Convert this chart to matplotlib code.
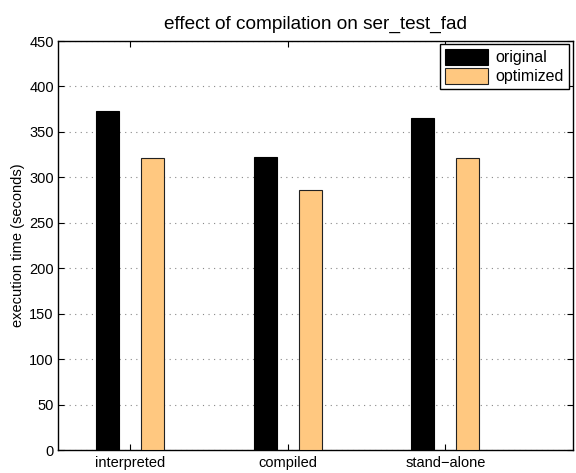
import numpy as np
import matplotlib
matplotlib.use("Agg")
import matplotlib.pyplot as plt

plt.rcParams["font.family"] = ["Liberation Sans", "DejaVu Sans"]

# data
categories = ["interpreted", "compiled", "stand\u2212alone"]
original = [373, 322, 365]
optimized = [321, 286, 321]

x = np.arange(1, len(categories) + 1)
w = 0.146
off = 0.143

fig = plt.figure(figsize=(5.76, 4.73), dpi=100)
ax = fig.add_axes([0.1007, 0.0486, 0.8941, 0.8647])

ax.bar(x - off, original, w, color="black", edgecolor="black", linewidth=0.8, label="original", zorder=3)
ax.bar(x + off, optimized, w, color="#ffc880", edgecolor="#222222", linewidth=0.8, label="optimized", zorder=3)

ax.set_xlim(0.54, 3.81)
ax.set_ylim(0, 450)
ax.set_yticks(np.arange(0, 451, 50))
ax.set_xticks(x)
ax.set_xticklabels(categories)
ax.tick_params(direction="in", top=True, right=True, labelsize=10.5, length=4, pad=3)
ax.tick_params(axis="x", pad=4)

ax.yaxis.grid(True, linestyle=(0, (1, 4)), color="#888888", linewidth=0.8, zorder=0)
ax.set_axisbelow(True)

for s in ax.spines.values():
    s.set_linewidth(1.0)

ax.set_ylabel("execution time (seconds)", fontsize=10.5, labelpad=3)
ax.set_title("effect of compilation on ser_test_fad", fontsize=13.7, pad=9)

leg = ax.legend(loc="upper right", fontsize=11.5, fancybox=False, framealpha=1,
                edgecolor="black", borderpad=0.3, handlelength=2.7, handleheight=1.15,
                handletextpad=0.5, labelspacing=0.15, borderaxespad=0.2,
                bbox_to_anchor=(0.998, 1.0))
leg.get_frame().set_linewidth(1.0)

fig.savefig("out.png", dpi=100)
